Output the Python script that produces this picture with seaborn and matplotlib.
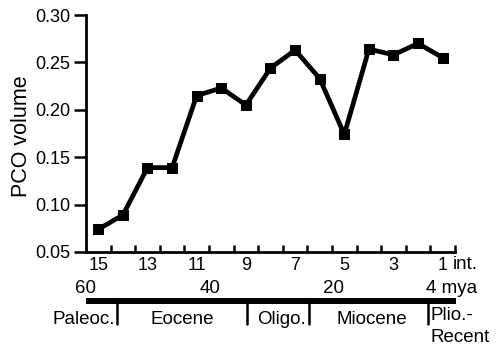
import matplotlib
matplotlib.use("Agg")
import matplotlib.pyplot as plt
import seaborn as sns
import pandas as pd

# data
intervals = [15, 14, 13, 12, 11, 10, 9, 8, 7, 6, 5, 4, 3, 2, 1]
pco_volume = [0.074, 0.089, 0.139, 0.139, 0.215, 0.223, 0.205, 0.244, 0.263,
              0.233, 0.174, 0.264, 0.258, 0.270, 0.255]
interval_ticks = [15, 13, 11, 9, 7, 5, 3, 1]
yticks = [0.05, 0.10, 0.15, 0.20, 0.25, 0.30]
age_labels = [60, 40, 20, 4]
epoch_bounds = [55, 34, 24, 4.7]
epoch_names = ["Paleoc.", "Eocene", "Oligo.", "Miocene", "Plio.-\nRecent"]
epoch_centers = [60.3, 44.5, 28.4, 13.8]

df = pd.DataFrame({"interval": intervals, "pco": pco_volume})

sns.set_style("ticks")
plt.rcParams["font.family"] = ["Liberation Sans", "DejaVu Sans"]
for k in ["text.color", "axes.labelcolor", "xtick.color", "ytick.color",
          "axes.edgecolor"]:
    plt.rcParams[k] = "black"

W, H = 500, 352
fig = plt.figure(figsize=(5.0, 3.52), dpi=100)
L, R, T, B = 86, 455, 15, 252
ax = fig.add_axes([L / W, 1 - B / H, (R - L) / W, (B - T) / H])


def ay(py):
    """pixel row -> axes fraction y"""
    return (B - py) / (B - T)


def px(p):
    return (p - L) / (R - L)


sns.lineplot(data=df, x="interval", y="pco", ax=ax, color="black",
             linewidth=3.4, marker="s", markersize=6.5, markeredgecolor="black",
             clip_on=False)

FS = 13
ax.set_xlim(15.5, 0.5)
ax.set_ylim(0.05, 0.30)
ax.set_yticks(yticks)
ax.set_yticklabels([f"{v:.2f}" for v in yticks], fontsize=FS)
ax.set_xticks([i + 0.5 for i in range(15)], minor=False)
ax.set_xticklabels([])
ax.set_xticks(interval_ticks, minor=True)
ax.set_xticklabels([str(v) for v in interval_ticks], minor=True, fontsize=FS)
ax.tick_params(axis="x", which="major", direction="in", length=5, width=1.8,
               color="black")
ax.tick_params(axis="x", which="minor", length=0, pad=3.5)
ax.tick_params(axis="y", direction="out", length=9, width=1.8, pad=2,
               color="black")
ax.set_xlabel("")
ax.set_ylabel("PCO volume", fontsize=15.5)
ax.yaxis.set_label_coords(px(21), ay(136.5))
ax.yaxis.label.set_verticalalignment("center")
for s in ["top", "right"]:
    ax.spines[s].set_visible(False)
for s in ["left", "bottom"]:
    ax.spines[s].set_linewidth(2.0)
    ax.spines[s].set_color("black")

FS2 = 13.5
# "int." label
ax.text(px(452.5), ay(269), "int.", transform=ax.transAxes,
        fontsize=FS2, ha="left", va="baseline")


def age_x(age):
    return (60 - age) / 59.7


ybar = ay(300.5)
# age labels
for a in age_labels:
    if a == 4:
        ax.text(px(426.5), ay(293), f"{a} mya",
                transform=ax.transAxes, fontsize=FS2, ha="left", va="baseline")
    else:
        ax.text(age_x(a), ay(293), str(a), transform=ax.transAxes,
                fontsize=FS2, ha="center", va="baseline")
# bar
ax.plot([0, 1.003], [ybar, ybar], transform=ax.transAxes, color="black",
        linewidth=4.3, clip_on=False, solid_capstyle="butt")
# epoch dividers
for b in epoch_bounds:
    ax.plot([age_x(b), age_x(b)], [ybar, ay(324)],
            transform=ax.transAxes, color="black", linewidth=1.8, clip_on=False)
# epoch names
for name, c in zip(epoch_names[:4], epoch_centers):
    ax.text(age_x(c), ay(324.5), name, transform=ax.transAxes,
            fontsize=FS2, ha="center", va="baseline")
ax.text(px(431), ay(307), epoch_names[4], transform=ax.transAxes,
        fontsize=FS2, ha="left", va="top", linespacing=1.42)

fig.savefig("out.png", dpi=100)
